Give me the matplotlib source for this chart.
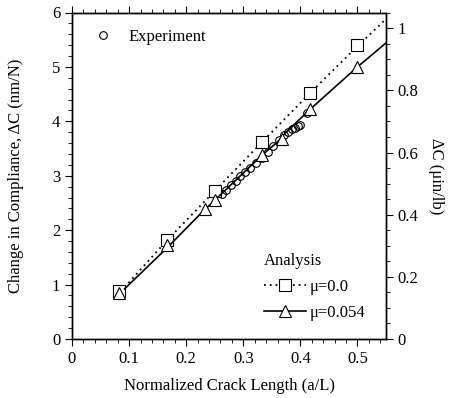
import numpy as np
import matplotlib
matplotlib.use('Agg')
import matplotlib.pyplot as plt
from matplotlib.ticker import MultipleLocator

plt.rcParams['font.family'] = ['Liberation Serif', 'DejaVu Serif']
plt.rcParams['font.size'] = 12

# experiment
exp_x = [0.262, 0.270, 0.279, 0.287, 0.295, 0.303, 0.312, 0.322, 0.333, 0.343,
         0.352, 0.362, 0.372, 0.379, 0.385, 0.390, 0.395, 0.399, 0.412]
exp_y = [2.66, 2.74, 2.83, 2.91, 2.99, 3.06, 3.14, 3.24, 3.33, 3.43,
         3.55, 3.65, 3.75, 3.80, 3.85, 3.88, 3.91, 3.93, 4.15]

# analysis mu=0.0
sq_x = [0.083, 0.167, 0.25, 0.333, 0.417, 0.5]
sq_y = [0.88, 1.82, 2.72, 3.62, 4.52, 5.40]
dot_x = [0.092, 0.167, 0.25, 0.333, 0.417, 0.5, 0.55]
dot_y = [0.95, 1.82, 2.72, 3.62, 4.52, 5.38, 5.88]

# analysis mu=0.054
tri_x = [0.083, 0.167, 0.233, 0.25, 0.333, 0.367, 0.417, 0.5]
tri_y = [0.85, 1.72, 2.38, 2.55, 3.38, 3.68, 4.22, 5.00]
sol_x = [0.092, 0.167, 0.225, 0.25, 0.333, 0.36, 0.375, 0.417, 0.5, 0.55]
sol_y = [0.92, 1.68, 2.30, 2.55, 3.38, 3.62, 3.80, 4.22, 5.00, 5.44]

NM_PER_UIN = 25.4 / 4.448  # nm/N per uin/lb

fig = plt.figure(figsize=(4.51, 3.98), dpi=100)
ax = fig.add_axes([72 / 451, (398 - 339) / 398, 314 / 451, 326.5 / 398])

l_exp, = ax.plot(exp_x, exp_y, 'o', mfc='none', mec='black', ms=5.5, mew=0.8, ls='none')
ax.plot(dot_x, dot_y, ls=(0, (1, 2.2)), color='black', lw=1.3)
ax.plot(sq_x, sq_y, 's', mfc='white', mec='black', ms=8, mew=0.8, ls='none')
ax.plot(sol_x, sol_y, '-', color='black', lw=1.2)
ax.plot(tri_x, tri_y, '^', mfc='white', mec='black', ms=9, mew=0.8, ls='none')

h_sq, = ax.plot([], [], ls=(0, (1, 2.2)), color='black', lw=1.3, marker='s',
                mfc='white', mec='black', ms=8, mew=0.8)
h_tri, = ax.plot([], [], '-', color='black', lw=1.2, marker='^',
                 mfc='white', mec='black', ms=9, mew=0.8)

ax.set_xlim(0, 0.55)
ax.set_ylim(0, 6)
ax.xaxis.set_minor_locator(MultipleLocator(0.02))
ax.yaxis.set_major_locator(MultipleLocator(1))
ax.yaxis.set_minor_locator(MultipleLocator(0.2))
ax.set_xticks(np.arange(0, 0.51, 0.1))
ax.set_xticklabels(['0', '0.1', '0.2', '0.3', '0.4', '0.5'])
ax.tick_params(which='both', direction='out', top=True, right=False)
ax.tick_params(which='major', length=5, width=0.8)
ax.tick_params(which='minor', length=3, width=0.6)
ax.set_xlabel('Normalized Crack Length (a/L)', labelpad=8)
ax.set_ylabel('Change in Compliance, ΔC (nm/N)', labelpad=20)

ax2 = ax.twinx()
ax2.set_ylim(0, 6 / NM_PER_UIN)
ax2.yaxis.set_minor_locator(MultipleLocator(0.05))
ax2.set_yticks([0, 0.2, 0.4, 0.6, 0.8, 1.0])
ax2.set_yticklabels(['0', '0.2', '0.4', '0.6', '0.8', '1'])
ax2.tick_params(which='both', direction='out')
ax2.tick_params(which='major', length=5, width=0.8)
ax2.tick_params(which='minor', length=3, width=0.6)
ax2.set_ylabel('ΔC (μin/lb)', rotation=270, labelpad=18)

for a in (ax, ax2):
    for s in a.spines.values():
        s.set_linewidth(1.0)

leg1 = ax.legend([l_exp], ['Experiment'], loc='upper left', frameon=False,
                 handlelength=1.0, handletextpad=1.0, bbox_to_anchor=(0.052, 0.97),
                 borderaxespad=0)
ax.add_artist(leg1)
ax.legend([h_sq, h_tri], ['μ=0.0', 'μ=0.054'], title='Analysis', loc='lower left',
          bbox_to_anchor=(0.59, 0.035), frameon=False, handlelength=2.5,
          handletextpad=0.25, labelspacing=0.6, alignment='left',
          title_fontsize=12, borderaxespad=0)

fig.savefig('out.png', dpi=100)
